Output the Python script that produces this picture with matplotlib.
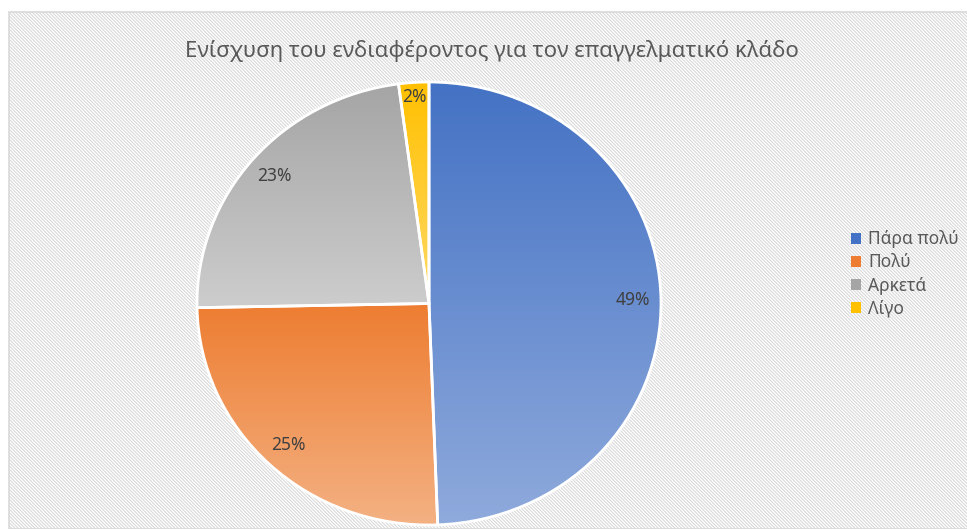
import numpy as np
import matplotlib
matplotlib.use("Agg")
import matplotlib.pyplot as plt
from matplotlib.colors import LinearSegmentedColormap
from matplotlib.patches import Rectangle, Patch

plt.rcParams['font.family'] = ['Noto Sans', 'DejaVu Sans']
plt.rcParams['hatch.linewidth'] = 0.8
plt.rcParams['hatch.color'] = '#e0e0e0'

title = "Ενίσχυση του ενδιαφέροντος για τον επαγγελματικό κλάδο"
categories = ["Πάρα πολύ", "Πολύ", "Αρκετά", "Λίγο"]
values = [49.4, 25.3, 23.2, 2.1]
top_colors = ["#4472C4", "#ED7D31", "#A5A5A5", "#FFC000"]
bottom_colors = ["#8FAADC", "#F4B183", "#CDCDCD", "#FFD966"]

W, H = 967, 529
fig = plt.figure(figsize=(W / 100, H / 100), dpi=100)
fig.patch.set_facecolor('white')

# background: hatched chart area with border
bg = Rectangle((9 / W, 0), 1, 1 - 12 / H, transform=fig.transFigure,
               facecolor='white', edgecolor='#d9d9d9', hatch='\\\\\\\\\\\\\\\\\\\\',
               linewidth=1.2, zorder=-5)
fig.patches.append(bg)

# pie axes (slightly elliptical as in reference)
cx, cy, rx, ry = 429, 303.5, 232, 221.5
ax = fig.add_axes([(cx - rx) / W, (H - cy - ry) / H, 2 * rx / W, 2 * ry / H])
wedges, texts, autotexts = ax.pie(values, startangle=90, counterclock=False,
                                  autopct='%1.0f%%', pctdistance=0.88,
                                  wedgeprops=dict(edgecolor='white', linewidth=2),
                                  textprops=dict(color='#404040', fontsize=12.5))
ax.set_aspect('auto')
ax.set_xlim(-1, 1)
ax.set_ylim(-1, 1)
ax.patch.set_alpha(0)

for w, c1, c2 in zip(wedges, top_colors, bottom_colors):
    ext = w.get_path().get_extents()
    cmap = LinearSegmentedColormap.from_list('g', [c1, c2])
    grad = np.linspace(0, 1, 256).reshape(-1, 1)
    im = ax.imshow(grad, cmap=cmap, aspect='auto', origin='upper',
                   extent=[ext.x0, ext.x1, ext.y0, ext.y1], zorder=1,
                   interpolation='bilinear')
    im.set_clip_path(w)
    w.set_facecolor('none')
    w.set_zorder(2)

for t in autotexts:
    t.set_zorder(3)
# small slice label sits nearer the rim
w = wedges[3]
mid = np.deg2rad((w.theta1 + w.theta2) / 2)
autotexts[3].set_position((0.935 * np.cos(mid), 0.935 * np.sin(mid)))

ax.set_xlim(-1, 1)
ax.set_ylim(-1, 1)

fig.text(492 / W, 1 - 51 / H, title, ha='center', va='center',
         fontsize=16, color='#595959')

handles = [Patch(facecolor=c, edgecolor='none') for c in top_colors]
fig.legend(handles, categories, loc='center left',
           bbox_to_anchor=(851 / W, 1 - 274 / H), frameon=False,
           fontsize=12.5, labelcolor='#595959', handlelength=0.6,
           handleheight=0.6, handletextpad=0.4, labelspacing=0.3,
           borderpad=0, borderaxespad=0)

fig.savefig('out.png', dpi=100)
